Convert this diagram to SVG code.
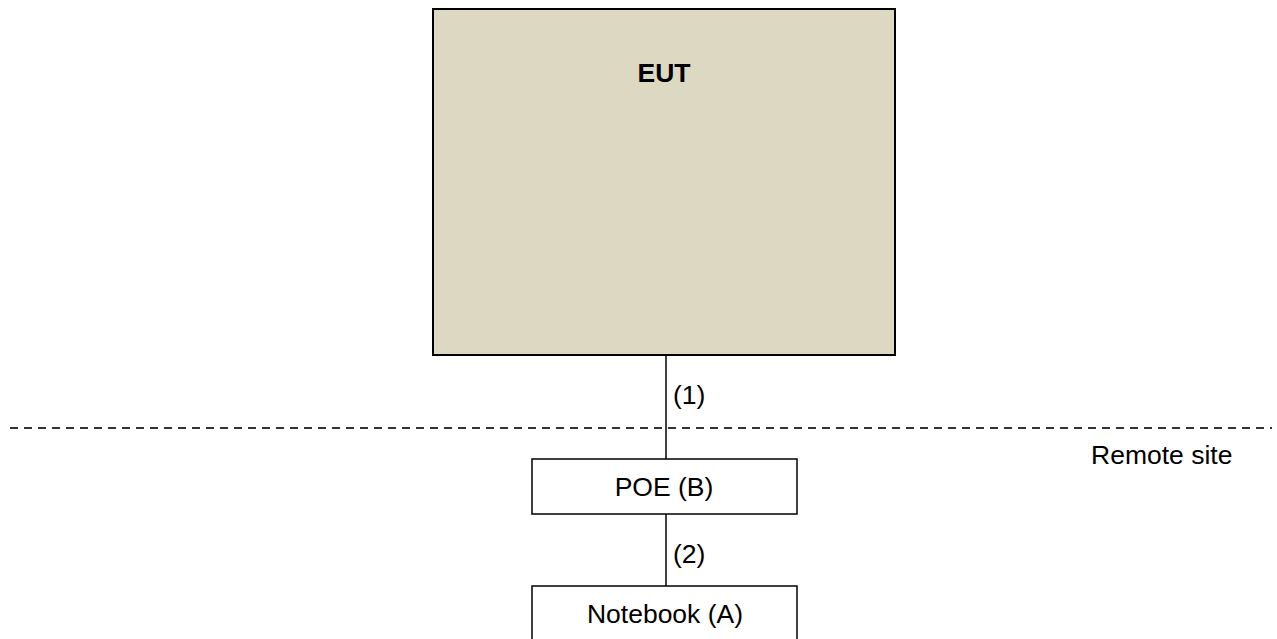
<svg xmlns="http://www.w3.org/2000/svg" width="1277" height="639" viewBox="0 0 1277 639">
<style>
.box{fill:#fff;stroke:#000;stroke-width:1.5}
.t{font-family:"Liberation Sans",Arial,sans-serif;font-size:26.5px;fill:#000}
.c{stroke:#000;stroke-width:1.5;fill:none}
</style>
<rect width="1277" height="639" fill="#fff"/>
<g id="boundary">
<line x1="10" y1="428" x2="1272" y2="428" stroke="#333" stroke-width="2" stroke-dasharray="8,6"/>
<text class="t" x="1091" y="464">Remote site</text>
</g>
<g id="connectors">
<line class="c" x1="666" y1="355" x2="666" y2="459"/>
<line class="c" x1="666" y1="514" x2="666" y2="586"/>
<text class="t" x="673" y="404">(1)</text>
<text class="t" x="673" y="563">(2)</text>
</g>
<g id="eut">
<rect x="433" y="9" width="462" height="346" fill="#DDD8C2" stroke="#000" stroke-width="2"/>
<text class="t" x="664" y="82" text-anchor="middle" font-weight="bold">EUT</text>
</g>
<g id="poe">
<rect class="box" x="532" y="459" width="265" height="55"/>
<text class="t" x="664" y="496" text-anchor="middle">POE (B)</text>
</g>
<g id="notebook">
<rect class="box" x="532" y="586" width="265" height="60"/>
<text class="t" x="665" y="623" text-anchor="middle">Notebook (A)</text>
</g>
</svg>
